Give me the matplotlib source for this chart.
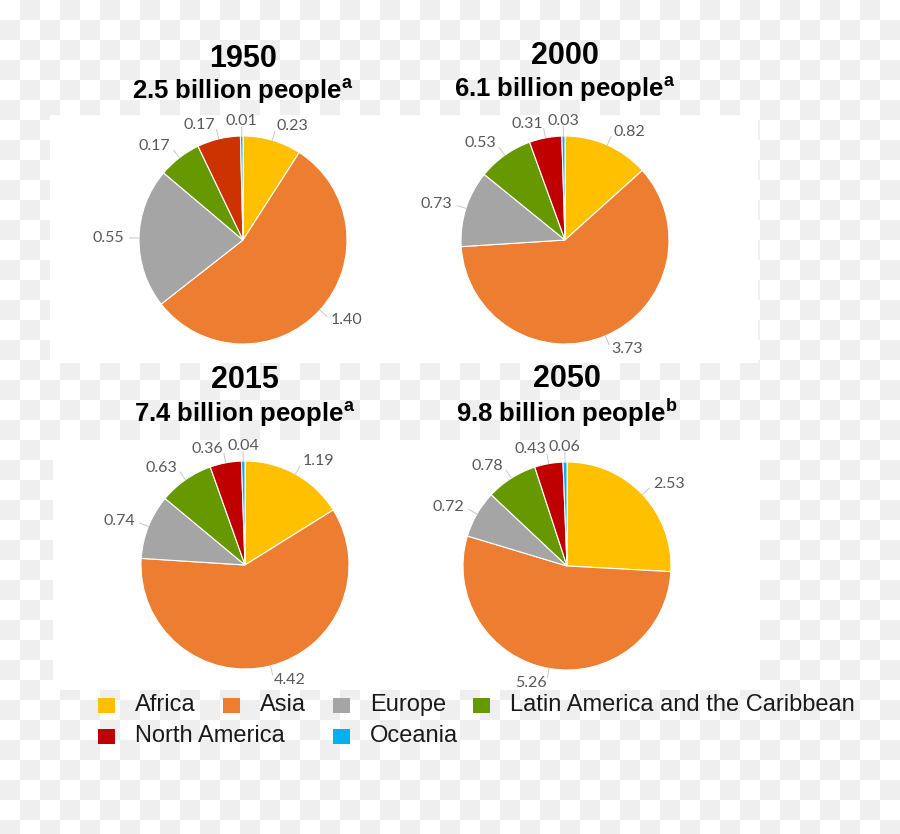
import matplotlib
matplotlib.use("Agg")
import matplotlib.pyplot as plt
import numpy as np
from matplotlib.colors import ListedColormap
from matplotlib.patches import Rectangle

plt.rcParams['mathtext.fontset'] = 'custom'
plt.rcParams['mathtext.rm'] = 'Liberation Sans'
plt.rcParams['mathtext.bf'] = 'Liberation Sans:bold'

# data, billions of people by region
regions = ['Africa', 'Asia', 'Europe', 'Latin America and the Caribbean',
           'North America', 'Oceania']
years = ['1950', '2000', '2015', '2050']
totals = ['2.5', '6.1', '7.4', '9.8']
notes = ['a', 'a', 'a', 'b']
pop_1950 = [0.23, 1.40, 0.55, 0.17, 0.17, 0.01]
pop_2000 = [0.82, 3.73, 0.73, 0.53, 0.31, 0.03]
pop_2015 = [1.19, 4.42, 0.74, 0.63, 0.36, 0.04]
pop_2050 = [2.53, 5.26, 0.72, 0.78, 0.43, 0.06]
populations = [pop_1950, pop_2000, pop_2015, pop_2050]

colors = ['#FFC000', '#ED7D31', '#A5A5A5', '#669900', '#C00000', '#00B0F0']
colors_1950 = ['#FFC000', '#ED7D31', '#A5A5A5', '#669900', '#CC3300', '#00B0F0']

W, H = 900, 834
R = 104  # pie radius in px
# pie centres and title baselines (px, y from top)
centers = [(243, 240), (565, 240), (245, 565), (567, 566)]
year_base = [67, 64, 388, 387]
sub_base = [99, 97, 422, 422]

fig = plt.figure(figsize=(W / 100, H / 100), dpi=100)

# transparent-looking checker background with white panels
bg = fig.add_axes([0, 0, 1, 1], zorder=-10)
checker = np.add.outer(np.arange(42), np.arange(45)) % 2
bg.imshow(checker, cmap=ListedColormap(['white', '#efefef']),
          extent=(0, 900, 840, 0), interpolation='nearest', aspect='auto')
bg.add_patch(Rectangle((50, 115), 708, 248, facecolor='white', edgecolor='none'))
bg.add_patch(Rectangle((53, 440), 707, 250, facecolor='white', edgecolor='none'))
bg.set_xlim(0, W)
bg.set_ylim(H, 0)
bg.axis('off')

s = 1.45 * R
for i, vals in enumerate(populations):
    cx, cy = centers[i]
    ax = fig.add_axes([(cx - s) / W, 1 - (cy + s) / H, 2 * s / W, 2 * s / H])
    wedges, _ = ax.pie(vals, colors=colors_1950 if i == 0 else colors,
                       startangle=90, counterclock=False,
                       wedgeprops=dict(edgecolor='white', linewidth=0.8))
    for w, v in zip(wedges, vals):
        ang = np.deg2rad((w.theta1 + w.theta2) / 2)
        x, y = np.cos(ang), np.sin(ang)
        ax.plot([x, 1.09 * x], [y, 1.09 * y], color='#c8c8c8', lw=0.7,
                clip_on=False)
        if x > 0.1:
            ha = 'left'
        elif x < -0.1:
            ha = 'right'
        else:
            ha = 'center'
        ax.text(1.14 * x, 1.14 * y, f"{v:.2f}", ha=ha, va='center',
                fontsize=11.5, color='#595959', family='Lato', clip_on=False)
    ax.set_xlim(-1.45, 1.45)
    ax.set_ylim(-1.45, 1.45)
    ax.axis('off')

    bg.text(cx, year_base[i], years[i], ha='center', va='baseline',
            fontsize=22, fontweight='bold', family='Liberation Sans')
    bg.text(cx, sub_base[i],
            f"{totals[i]} billion people" + r"$^{\mathbf{" + notes[i] + "}}$",
            ha='center', va='baseline', fontsize=18.5, fontweight='bold',
            family='Liberation Sans')

# legend: first row flows, second row snaps to the first row's slots
renderer = fig.canvas.get_renderer()
sq = 15
row1_y, row2_y = 705, 736
slots = []
x = 98
for k in [0, 1, 2, 3]:
    slots.append(x)
    bg.add_patch(Rectangle((x, row1_y - sq / 2), sq + 2, sq, facecolor=colors[k],
                           edgecolor='none'))
    t = bg.text(x + sq + 22, row1_y, regions[k], ha='left', va='center',
                fontsize=17, family='Liberation Sans', color='#1a1a1a')
    x = x + sq + 22 + t.get_window_extent(renderer).width + 27

for k, slot in zip([4, 5], [0, 2]):
    x = slots[slot]
    bg.add_patch(Rectangle((x, row2_y - sq / 2), sq + 2, sq, facecolor=colors[k],
                           edgecolor='none'))
    bg.text(x + sq + 22, row2_y, regions[k], ha='left', va='center',
            fontsize=17, family='Liberation Sans', color='#1a1a1a')

fig.savefig('out.png', dpi=100)
